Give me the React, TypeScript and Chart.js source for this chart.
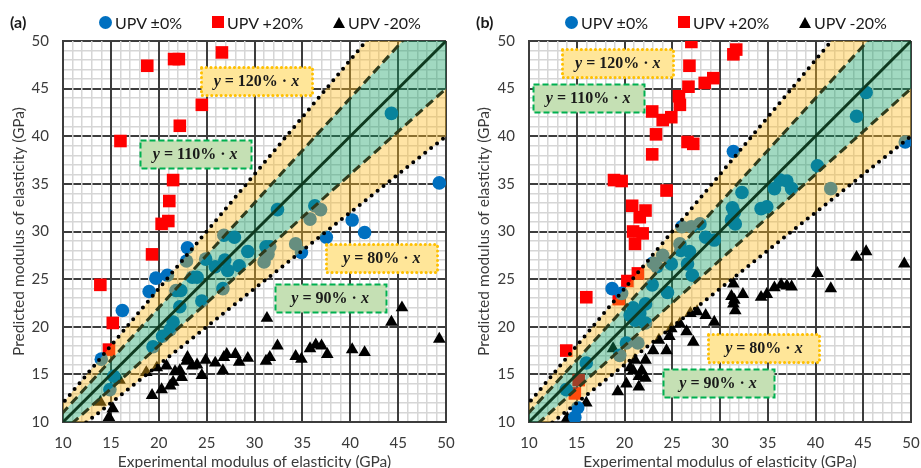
import { useEffect, useRef } from 'react';
import { Chart, registerables } from 'chart.js';

Chart.register(...registerables);

type Pt = [number, number];

const AXIS_MIN = 10;
const AXIS_MAX = 50;
const MAJOR_STEP = 5;

// y = k·x reference lines (upper dotted, upper dashed, identity, lower dashed, lower dotted)
const fitRatios = [1.2, 1.1, 1.0, 0.9, 0.8];

const seriesNames = ['UPV ±0%', 'UPV +20%', 'UPV -20%'];
const xTitle = 'Experimental modulus of elasticity (GPa)';
const yTitle = 'Predicted modulus of elasticity (GPa)';

// ---- panel (a) ----
const aUpv0: Pt[] = [
  [44.3, 42.4], [49.3, 35.1], [32.4, 32.3], [36.3, 32.7], [36.9, 32.3], [35.8, 31.3],
  [40.2, 31.2], [41.5, 29.9], [37.5, 29.4], [34.9, 27.8], [34.3, 28.7], [31.2, 28.4],
  [31.6, 28.4], [31.4, 27.6], [31.0, 26.8], [29.3, 27.9], [28.4, 26.4], [27.9, 29.4],
  [26.8, 29.6], [26.9, 27.0], [27.2, 25.9], [25.9, 26.3], [24.9, 27.1], [23.0, 28.3],
  [22.9, 26.9], [23.5, 25.2], [24.0, 25.2], [26.7, 24.0], [19.7, 25.1], [20.9, 25.4],
  [19.0, 23.7], [21.8, 23.8], [22.3, 23.8], [24.5, 22.7], [22.2, 22.1], [16.2, 21.7],
  [21.5, 20.5], [21.2, 19.7], [20.4, 19.0], [19.4, 17.9], [14.0, 16.6], [15.3, 14.8],
  [14.9, 13.4],
];
const aUpvPlus20: Pt[] = [
  [18.8, 47.4], [21.6, 48.1], [22.1, 48.1], [26.6, 48.8], [24.5, 43.3], [22.2, 41.1],
  [16.0, 39.5], [21.5, 35.4], [21.1, 33.2], [21.0, 31.1], [20.3, 30.8], [19.3, 27.6],
  [13.9, 24.4], [15.2, 20.4], [14.8, 17.6],
];
const aUpvMinus20: Pt[] = [
  [31.3, 20.9], [45.4, 22.0], [44.3, 20.5], [49.3, 18.7], [32.4, 18.0], [40.2, 17.6],
  [41.5, 17.3], [35.8, 17.7], [36.4, 18.1], [37.0, 18.0], [37.6, 17.1], [34.3, 16.9],
  [34.9, 16.6], [31.2, 16.4], [31.6, 16.8], [29.3, 16.7], [28.4, 16.3], [28.0, 17.1],
  [27.1, 17.1], [26.8, 16.8], [26.7, 15.4], [25.9, 16.2], [24.9, 16.5], [24.5, 14.9],
  [24.0, 16.0], [23.5, 15.9], [23.0, 16.8], [22.9, 16.4], [22.2, 15.4], [21.7, 15.3],
  [22.4, 14.7], [21.5, 14.2], [21.2, 13.8], [20.3, 13.4], [19.3, 12.8], [18.7, 15.2],
  [19.8, 15.7], [20.8, 15.9], [15.9, 14.4], [13.9, 12.1], [15.2, 11.4], [14.8, 10.5],
];

// ---- panel (b) ----
const bUpv0: Pt[] = [
  [45.3, 44.6], [44.3, 42.1], [49.4, 39.4], [31.4, 38.4], [40.2, 36.9], [41.6, 34.5],
  [36.3, 35.4], [37.0, 35.3], [37.5, 34.5], [35.7, 34.5], [32.3, 34.1], [34.9, 32.6],
  [34.3, 32.4], [31.3, 32.5], [31.5, 32.0], [31.2, 31.2], [31.6, 30.8], [27.9, 30.8],
  [27.0, 30.5], [26.0, 30.5], [28.5, 29.4], [29.4, 29.1], [25.8, 28.7], [25.9, 28.0],
  [26.8, 27.9], [24.0, 27.5], [23.0, 26.7], [23.4, 26.3], [24.9, 26.6], [26.6, 26.6],
  [27.1, 25.4], [22.9, 24.4], [18.7, 24.0], [19.7, 23.5], [24.5, 23.6], [22.2, 22.4],
  [20.9, 22.0], [21.6, 21.4], [21.1, 20.7], [22.2, 20.4], [20.6, 21.2], [20.2, 18.3],
  [21.4, 18.3], [19.5, 17.0], [16.0, 16.2], [13.9, 13.4], [15.1, 11.5], [14.8, 10.5],
];
const bUpvPlus20: Pt[] = [
  [27.0, 49.9], [31.4, 48.6], [31.7, 49.1], [26.8, 47.4], [26.7, 45.2], [28.4, 45.6],
  [29.3, 46.1], [25.7, 44.2], [25.8, 43.3], [22.9, 42.6], [24.0, 41.7], [24.9, 42.0],
  [23.3, 40.2], [22.9, 38.1], [26.6, 39.4], [27.2, 39.2], [24.4, 34.3], [18.9, 35.4],
  [19.7, 35.3], [20.8, 32.7], [22.2, 32.2], [21.6, 31.5], [20.9, 30.0], [21.9, 29.8],
  [21.1, 28.7], [20.3, 24.8], [21.4, 25.6], [16.0, 23.1], [19.4, 22.9], [13.9, 17.5],
  [15.2, 14.4], [14.8, 13.0],
];
const bUpvMinus20: Pt[] = [
  [44.3, 27.3], [45.3, 27.9], [49.3, 26.6], [40.2, 25.6], [41.6, 24.0], [35.7, 24.1],
  [36.4, 24.4], [37.0, 24.3], [37.5, 24.2], [31.4, 24.5], [32.4, 23.4], [31.2, 23.2],
  [31.5, 22.8], [31.4, 22.4], [31.6, 21.7], [34.3, 23.1], [34.9, 23.4], [26.9, 21.4],
  [27.6, 21.6], [28.5, 21.2], [29.4, 20.5], [25.8, 20.3], [24.9, 19.8], [26.5, 19.5],
  [27.2, 18.4], [24.7, 19.0], [23.6, 18.6], [24.4, 17.5], [23.0, 17.5], [22.2, 16.5],
  [21.1, 16.5], [20.6, 15.7], [20.9, 15.4], [21.8, 15.4], [22.2, 14.6], [21.5, 14.8],
  [20.2, 14.0], [21.5, 13.7], [19.3, 13.2], [18.8, 17.7], [16.0, 12.0], [14.0, 10.4],
];

// Formula callouts, anchored in data coordinates: [ratio, x, y]
const aCallouts: [number, number, number][] = [
  [1.2, 30.2, 45.8], [1.1, 23.8, 38.1], [0.8, 43.3, 27.2], [0.9, 37.9, 23.0],
];
const bCallouts: [number, number, number][] = [
  [1.2, 19.3, 47.7], [1.1, 16.2, 44.0], [0.8, 34.6, 17.8], [0.9, 29.8, 14.1],
];

const BLUE = '#0070c0';
const RED = '#ff0000';
const BLACK = '#000000';
const TEXT = '#3a3a3a';
const SANS = 'Lato, "Open Sans", sans-serif';
const SERIF = '"Liberation Serif", "DejaVu Serif", serif';

const CANVAS_H = 476;
const PLOT_TOP = 41;
const PLOT_BOTTOM = 422;

// legend marker offsets measured from the plot's left edge
const LEGEND_OFFSETS = [36, 149, 270];

const toXY = (pts: Pt[]) => pts.map(([x, y]) => ({ x, y }));
const rayTo = (k: number) => [{ x: 0, y: 0 }, { x: 60, y: 60 * k }];

function lineStyle(k: number) {
  const d = Math.round(Math.abs(k - 1) * 100);
  if (d === 0) return { borderColor: '#0f3a20', borderWidth: 3, borderDash: [] as number[], borderCapStyle: 'butt' };
  if (d === 10) return { borderColor: '#2f3b1c', borderWidth: 3, borderDash: [9, 5], borderCapStyle: 'butt' };
  return { borderColor: '#000000', borderWidth: 4, borderDash: [0, 7.6], borderCapStyle: 'round' };
}

function buildDatasets(zero: Pt[], plus: Pt[], minus: Pt[]) {
  const scatter = [
    { label: seriesNames[0], data: toXY(zero), pointStyle: 'circle', pointRadius: 6.8, color: BLUE },
    { label: seriesNames[1], data: toXY(plus), pointStyle: 'rect', pointRadius: 8.9, color: RED },
    { label: seriesNames[2], data: toXY(minus), pointStyle: 'triangle', pointRadius: 7.3, color: BLACK },
  ].map((s) => ({
    label: s.label,
    data: s.data,
    showLine: false,
    pointStyle: s.pointStyle,
    pointRadius: s.pointRadius,
    pointHoverRadius: s.pointRadius,
    pointBackgroundColor: s.color,
    pointBorderColor: s.color,
    pointBorderWidth: 0,
    backgroundColor: s.color,
    borderColor: s.color,
    order: 10,
  }));

  // Tolerance bands: each ray fills down to the next one (yellow ±20 %, green ±10 %)
  const bandFill = ['rgba(255, 188, 30, 0.40)', 'rgba(20, 160, 100, 0.40)', 'rgba(255, 188, 30, 0.40)'];
  const bandRatios = fitRatios.filter((k) => k !== 1);
  const bands = bandRatios.map((k, i) => ({
    label: `band-${k}`,
    data: rayTo(k),
    showLine: true,
    borderWidth: 0,
    borderColor: 'rgba(0,0,0,0)',
    pointRadius: 0,
    pointHoverRadius: 0,
    backgroundColor: bandFill[i] ?? 'rgba(0,0,0,0)',
    fill: i < bandRatios.length - 1 ? '+1' : false,
    order: 5,
    clip: 0,
  }));

  const rays = fitRatios.map((k) => ({
    label: `ray-${k}`,
    data: rayTo(k),
    showLine: true,
    pointRadius: 0,
    pointHoverRadius: 0,
    fill: false,
    order: 1,
    clip: 0,
    ...lineStyle(k),
  }));

  return [...scatter, ...bands, ...rays];
}

function drawCallout(ctx: CanvasRenderingContext2D, cx: number, cy: number, k: number) {
  const outer = Math.abs(k - 1) > 0.15;
  const w = 111;
  const h = 28;
  const x0 = Math.round(cx - w / 2) + 0.5;
  const y0 = Math.round(cy - h / 2) + 0.5;
  ctx.save();
  ctx.fillStyle = outer ? '#ffe699' : '#c5e0b4';
  ctx.fillRect(x0, y0, w, h);
  if (outer) {
    ctx.strokeStyle = '#ffc000';
    ctx.lineWidth = 3;
    ctx.lineCap = 'round';
    ctx.setLineDash([0.1, 4.6]);
  } else {
    ctx.strokeStyle = '#00b050';
    ctx.lineWidth = 2;
    ctx.lineCap = 'butt';
    ctx.setLineDash([6, 3]);
  }
  ctx.strokeRect(x0, y0, w, h);
  ctx.setLineDash([]);

  const pct = `${Math.round(k * 100)}%`;
  const italic = `italic bold 16px ${SERIF}`;
  const upright = `bold 16px ${SERIF}`;
  const parts: [string, string][] = [['y', italic], [` = ${pct} · `, upright], ['x', italic]];
  let total = 0;
  for (const [t, f] of parts) {
    ctx.font = f;
    total += ctx.measureText(t).width;
  }
  let x = cx - total / 2;
  ctx.fillStyle = '#1a1a1a';
  ctx.textBaseline = 'middle';
  ctx.textAlign = 'left';
  for (const [t, f] of parts) {
    ctx.font = f;
    ctx.fillText(t, x, cy + 1);
    x += ctx.measureText(t).width;
  }
  ctx.restore();
}

const calloutPlugin = {
  id: 'formulaCallouts',
  afterDatasetsDraw(chart: any, _args: any, opts: any) {
    const list: [number, number, number][] = opts?.items ?? [];
    const { ctx } = chart;
    const xs = chart.scales.x;
    const ys = chart.scales.y;
    for (const [k, x, y] of list) {
      drawCallout(ctx, xs.getPixelForValue(x), ys.getPixelForValue(y), k);
    }
  },
};

const isMajor = (v: number) => Math.abs(Math.round(v) % MAJOR_STEP) === 0;

function axis(title: string, kind: 'x' | 'y', plotLeft: number, titleOffset: number) {
  return {
    type: 'linear',
    position: kind === 'x' ? 'bottom' : 'left',
    min: AXIS_MIN,
    max: AXIS_MAX,
    ticks: {
      stepSize: 1,
      autoSkip: false,
      maxRotation: 0,
      padding: kind === 'x' ? 12 : 14,
      color: TEXT,
      font: { family: SANS, size: 15 },
      callback: (v: number) => (isMajor(v) ? String(Math.round(v)) : ''),
    },
    grid: {
      drawTicks: false,
      color: (c: any) => (isMajor(c.tick.value) ? '#3d3d3d' : '#d6d6d6'),
      lineWidth: (c: any) => (isMajor(c.tick.value) ? 2 : 1.5),
    },
    border: { display: true, color: '#3d3d3d', width: 2 },
    title: {
      display: true,
      text: title,
      color: TEXT,
      font: { family: SANS, size: 15.5 },
      padding: kind === 'x' ? { top: 0, bottom: 5 } : { top: titleOffset, bottom: 0 },
    },
    afterFit: (s: any) => {
      if (kind === 'x') {
        s.height = CANVAS_H - PLOT_BOTTOM;
        s.paddingLeft = 0;
        s.paddingRight = 0;
      } else {
        s.width = plotLeft;
        s.paddingTop = 0;
        s.paddingBottom = 0;
      }
    },
  };
}

type PanelProps = {
  tag: string;
  left: number;
  width: number;
  plotLeft: number;
  plotRight: number;
  tagLeft: number;
  yTitleOffset: number;
  zero: Pt[];
  plus: Pt[];
  minus: Pt[];
  callouts: [number, number, number][];
};

function Marker({ kind }: { kind: number }) {
  if (kind === 0) {
    return <span style={{ width: 13, height: 13, borderRadius: '50%', background: BLUE, display: 'inline-block' }} />;
  }
  if (kind === 1) {
    return <span style={{ width: 12, height: 12, background: RED, display: 'inline-block' }} />;
  }
  return (
    <span
      style={{
        width: 0,
        height: 0,
        borderLeft: '6px solid transparent',
        borderRight: '6px solid transparent',
        borderBottom: '11px solid #000',
        display: 'inline-block',
      }}
    />
  );
}

function Panel(p: PanelProps) {
  const ref = useRef<HTMLCanvasElement | null>(null);

  useEffect(() => {
    if (!ref.current) return;
    const chart = new Chart(ref.current, {
      type: 'scatter',
      data: { datasets: buildDatasets(p.zero, p.plus, p.minus) as any },
      options: {
        responsive: false,
        animation: false,
        devicePixelRatio: 1,
        events: [],
        layout: { padding: { top: PLOT_TOP, right: p.width - p.plotRight, bottom: 0, left: 0 } },
        plugins: {
          legend: { display: false },
          tooltip: { enabled: false },
          formulaCallouts: { items: p.callouts },
        } as any,
        // y listed first so the vertical grid is painted over the horizontal one
        scales: {
          y: axis(yTitle, 'y', p.plotLeft, p.yTitleOffset) as any,
          x: axis(xTitle, 'x', p.plotLeft, 0) as any,
        },
      },
      plugins: [calloutPlugin],
    });
    return () => chart.destroy();
  }, []);

  return (
    <div style={{ position: 'absolute', left: p.left, top: 0, width: p.width, height: CANVAS_H }}>
      <canvas ref={ref} width={p.width} height={CANVAS_H} style={{ display: 'block' }} />
      <div
        style={{
          position: 'absolute',
          left: p.tagLeft,
          top: 12,
          fontFamily: SANS,
          fontWeight: 700,
          fontSize: 16,
          color: '#1a1a1a',
          lineHeight: '20px',
        }}
      >
        {p.tag}
      </div>
      {seriesNames.map((name, i) => (
        <div
          key={name}
          style={{
            position: 'absolute',
            left: p.plotLeft + LEGEND_OFFSETS[i],
            top: 12,
            height: 20,
            display: 'flex',
            alignItems: 'center',
            gap: 3,
            fontFamily: SANS,
            fontSize: 16,
            color: '#1a1a1a',
            whiteSpace: 'nowrap',
          }}
        >
          <Marker kind={i} />
          <span>{name}</span>
        </div>
      ))}
    </div>
  );
}

export default function App() {
  return (
    <div
      style={{
        position: 'fixed',
        left: 0,
        top: 0,
        width: 921,
        height: 468,
        overflow: 'hidden',
        background: '#ffffff',
      }}
    >
      <Panel
        tag="(a)"
        left={0}
        width={460}
        plotLeft={63}
        plotRight={446}
        tagLeft={10}
        yTitleOffset={10}
        zero={aUpv0}
        plus={aUpvPlus20}
        minus={aUpvMinus20}
        callouts={aCallouts}
      />
      <Panel
        tag="(b)"
        left={460}
        width={461}
        plotLeft={69}
        plotRight={451}
        tagLeft={16}
        yTitleOffset={15}
        zero={bUpv0}
        plus={bUpvPlus20}
        minus={bUpvMinus20}
        callouts={bCallouts}
      />
    </div>
  );
}
